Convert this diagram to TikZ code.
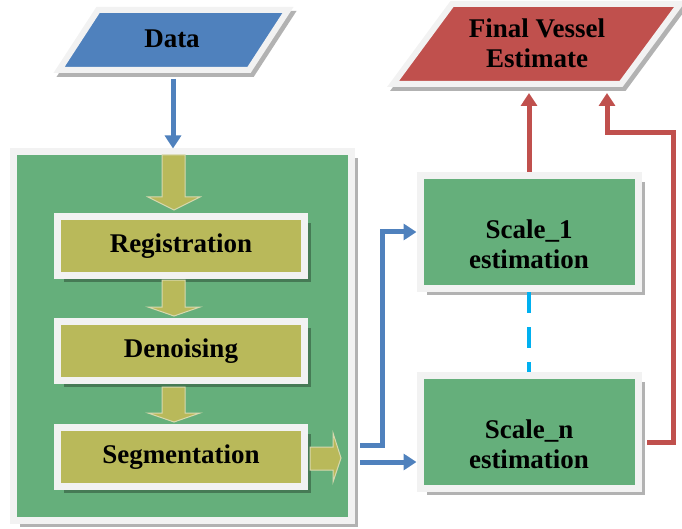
\documentclass[tikz,border=0pt]{standalone}
\usepackage{fontspec}
\setmainfont{Liberation Serif}
\usepackage{tikz}
\usetikzlibrary{
	arrows.meta,
	calc,
	shadows,
	positioning
}
\definecolor{BoxGreen}{RGB}{101,175,123}
\definecolor{BoxOlive}{RGB}{185,185,90}
\definecolor{DataBlue}{RGB}{79,129,189}
\definecolor{EstRed}{RGB}{192,80,77}
\definecolor{EdgeWhite}{RGB}{242,242,242}
\definecolor{LineCyan}{RGB}{0,176,240}

\begin{document}
\begin{tikzpicture}[x=1pt, y=-1pt,
		lbl/.style={font=\bfseries\fontsize{27}{30}\selectfont, align=center},
		framebox/.style={lbl, draw=EdgeWhite, line width=7pt, inner sep=0pt,
			drop shadow={shadow xshift=6.5pt, shadow yshift=-6.5pt, fill=black, opacity=0.3}},
		stepbox/.style={framebox, fill=BoxOlive, minimum width=247pt, minimum height=59pt},
		scalebox/.style={framebox, fill=BoxGreen, minimum width=218pt, minimum height=113pt},
		blockarrow/.style={fill=BoxOlive, draw=EdgeWhite!55!BoxOlive, line width=1pt},
		flow/.style={line width=5pt, -{Triangle[length=13pt, width=16pt]}}
	]
		\useasboundingbox (0,0) rectangle (682,529);
		% 输入数据
		\filldraw[gray!60, line width=6pt, shift={(3,4)}] (98,10) -- (288,10) -- (249,70) -- (59,70) -- cycle;
		\filldraw[fill=DataBlue, draw=EdgeWhite, line width=6pt] (98,10) -- (288,10) -- (249,70) -- (59,70) -- cycle;
		\node[lbl] (data) at (172,39) {Data};
		\coordinate (db) at (173,79);
		% 最终结果
		\filldraw[gray!60, line width=6pt, shift={(3,4)}] (452,4) -- (680,4) -- (621,84) -- (393,84) -- cycle;
		\filldraw[fill=EstRed, draw=EdgeWhite, line width=6pt] (452,4) -- (680,4) -- (621,84) -- (393,84) -- cycle;
		\node[lbl] (final) at (537,43) {Final Vessel\\Estimate};
		\coordinate (fb1) at (529,93);
		\coordinate (fb2) at (607,93);
		% 预处理
		\node[framebox, fill=BoxGreen, minimum width=338pt, minimum height=368pt] (stage) at (182.5,336) {};
		\node[stepbox] (reg) at (181,246) {Registration};
		\node[stepbox] (den) at (181,351) {Denoising};
		\node[stepbox] (seg) at (181,457) {Segmentation};
		\foreach \t/\h/\e in {155/197/210, 280/307/316, 387/413/422}
			\filldraw[blockarrow] (162,\t) -- (185,\t) -- (185,\h) -- (200,\h) -- (174,\e) -- (148,\h) -- (162,\h) -- cycle;
		\filldraw[blockarrow] (310,447) -- (333,447) -- (333,433) -- (341,458) -- (333,482) -- (333,470) -- (310,470) -- cycle;
		% 多尺度估计
		\node[scalebox] (sc1) at (529,232) {};
		\node[scalebox] (scn) at (529,432) {};
		\node[lbl] (sc1-t) at ([yshift=-12pt]sc1.center) {Scale\_1\\estimation};
		\node[lbl] (scn-t) at ([yshift=-12pt]scn.center) {Scale\_n\\estimation};
		\draw[LineCyan, line width=4pt, dash pattern=on 21pt off 14pt] (sc1.south) -- (scn.north);
		% 连线
		\draw[flow, DataBlue] (db) -- (db |- stage.north);
		\coordinate (out1) at (360,445);
		\coordinate (out2) at (360,462);
		\draw[flow, DataBlue] (out1) -- ++(22,0) |- (sc1.west);
		\draw[flow, DataBlue] (out2) -- (out2 -| scn.west);
		\draw[flow, EstRed] (sc1.north) -- (fb1);
		\coordinate (rn) at (647,442);
		\draw[flow, EstRed] (rn) -| (673,133) -| (fb2);
	\end{tikzpicture}
\end{document}
